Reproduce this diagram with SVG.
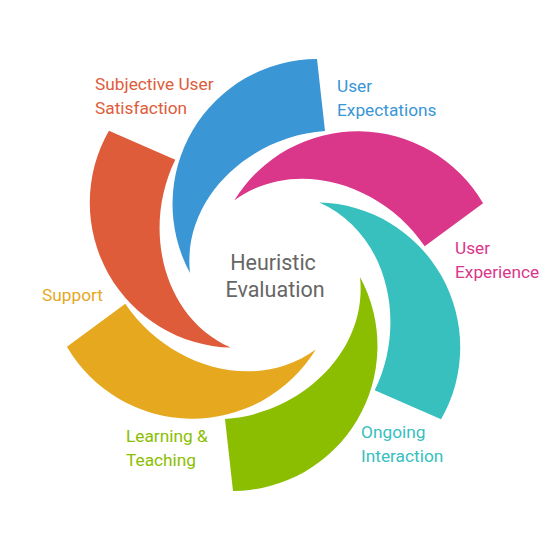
<svg xmlns="http://www.w3.org/2000/svg" xmlns:xlink="http://www.w3.org/1999/xlink" width="550" height="550" viewBox="0 0 550 550">
<style>
.lbl{font-family:Roboto,"Liberation Sans",sans-serif;font-size:17.3px;}
.title{font-family:Roboto,"Liberation Sans",sans-serif;font-size:21.5px;fill:#666666;text-anchor:middle;}
.blue{fill:#3A96D5}.mag{fill:#DA368A}.teal{fill:#37C0BE}.green{fill:#8BBE00}.yel{fill:#E6A81E}.red{fill:#DE5C3A}
</style>
<defs>
<path id="blade" d="M 317 59 L 325 131 C 250 136 182 198 190 273 A 145 145 0 0 1 317 59 Z"/>
</defs>
<rect width="550" height="550" fill="#ffffff"/>
<g id="connectors"></g>
<g id="user-expectations">
<use xlink:href="#blade" class="blue"/>
<text class="lbl blue" x="337" y="92">User</text>
<text class="lbl blue" x="337" y="116">Expectations</text>
</g>
<g id="user-experience">
<use xlink:href="#blade" class="mag" transform="rotate(60 275 275)"/>
<text class="lbl mag" x="455" y="254">User</text>
<text class="lbl mag" x="455" y="278">Experience</text>
</g>
<g id="ongoing-interaction">
<use xlink:href="#blade" class="teal" transform="rotate(120 275 275)"/>
<text class="lbl teal" x="361" y="438">Ongoing</text>
<text class="lbl teal" x="361" y="462">Interaction</text>
</g>
<g id="learning-teaching">
<use xlink:href="#blade" class="green" transform="rotate(180 275 275)"/>
<text class="lbl green" x="126" y="442">Learning &amp;</text>
<text class="lbl green" x="126" y="466">Teaching</text>
</g>
<g id="support">
<use xlink:href="#blade" class="yel" transform="rotate(240 275 275)"/>
<text class="lbl yel" x="42" y="301">Support</text>
</g>
<g id="subjective-user-satisfaction">
<use xlink:href="#blade" class="red" transform="rotate(300 275 275)"/>
<text class="lbl red" x="95" y="90">Subjective User</text>
<text class="lbl red" x="95" y="114">Satisfaction</text>
</g>
<g id="center">
<text class="title" x="273" y="270">Heuristic</text>
<text class="title" x="275" y="297">Evaluation</text>
</g>
</svg>
